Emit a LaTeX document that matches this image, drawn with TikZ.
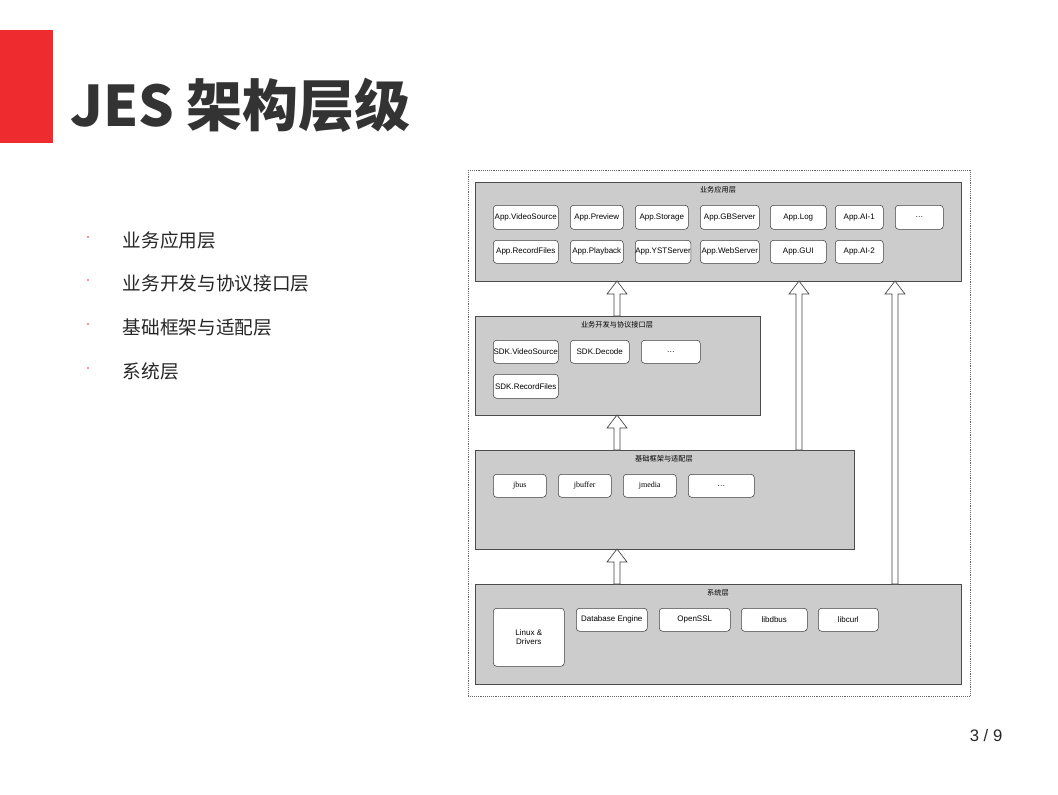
\documentclass[tikz,border=0pt]{standalone}
\usepackage{fontspec}
\setmainfont{Liberation Sans}
\newfontfamily\cjk{Noto Sans CJK SC}
\newfontfamily\serifjs{Liberation Serif}
\usetikzlibrary{positioning,calc}
\definecolor{titlegray}{HTML}{333333}
\definecolor{slidered}{HTML}{EE2B2F}
\definecolor{layergray}{HTML}{CCCCCC}
\tikzset{
  layer/.style 2 args={rectangle, draw=black!70, fill=layergray, anchor=north west,
    minimum width=#1*0.75pt, minimum height=#2*0.75pt, inner sep=0pt},
  modbox/.style 2 args={rectangle, rounded corners=2.5pt, draw=black!75, fill=white,
    anchor=north west, minimum width=#1*0.75pt, minimum height=#2*0.75pt, inner sep=0pt,
    font=\fontsize{6}{7}\selectfont, align=center},
  layertitle/.style={font=\cjk\fontsize{5.4}{6}\selectfont},
  bulletitem/.style={font=\cjk\fontsize{14}{16}\selectfont, anchor=west, text=black!85},
  bulletdot/.style={circle, fill=slidered, inner sep=0pt, minimum size=1.4pt},
  hollow/.style={draw=black!75, fill=white, line width=0.5pt}
}
% hollow block arrow: x, tail y, head y
\newcommand\hollowarrow[3]{%
  \draw[hollow] (#1-3,#2) -- (#1-3,#3+13) -- (#1-10,#3+13) -- (#1,#3)
    -- (#1+10,#3+13) -- (#1+3,#3+13) -- (#1+3,#2) -- cycle;}
\begin{document}
\begin{tikzpicture}[x=0.75pt,y=-0.75pt]
\useasboundingbox (0,0) rectangle (1058,794);
% slide header
\fill[slidered] (0,30) rectangle (53,143);
\node[anchor=base west, inner sep=0pt, text=titlegray, font=\cjk\bfseries\fontsize{42}{46}\selectfont] (title) at (70,126) {JES 架构层级};
% bullets
\foreach \y/\t [count=\i] in {240/业务应用层, 283/业务开发与协议接口层, 327/基础框架与适配层, 371/系统层} {
  \node[bulletdot] (dot\i) at (88,\y-3) {};
  \node[bulletitem] (item\i) at (118,\y) {\t};
}
\node[anchor=east, font=\fontsize{12.5}{14}\selectfont, text=black!85] (page) at (1007,736) {3 / 9};
% outer frame
\draw[densely dotted, draw=black!60] (468,170) rectangle (970,696);
% layers
\node[layer={486}{99}] (app) at (475,182) {};
\node[layertitle] at (718,190) {业务应用层};
\node[layer={285}{99}] (sdk) at (475,316) {};
\node[layertitle] at (617,325) {业务开发与协议接口层};
\node[layer={379}{99}] (base) at (475,450) {};
\node[layertitle] at (664,459) {基础框架与适配层};
\node[layer={486}{100}] (sys) at (475,584) {};
\node[layertitle] at (718,593) {系统层};
% app modules
\foreach \x/\w/\t in {493/65/App.VideoSource, 570/53/App.Preview, 635/53/App.Storage,
    700/59/App.GBServer, 770/56/App.Log, 835/48/App.AI-1, 895/48/{\ldots}}
  \node[modbox={\w}{24}] at (\x,205) {\t};
\foreach \x/\w/\t in {493/65/App.RecordFiles, 570/53/App.Playback, 635/53/App.YSTServer,
    700/59/App.WebServer, 770/56/App.GUI, 835/48/App.AI-2}
  \node[modbox={\w}{23}] at (\x,240) {\t};
% sdk modules
\node[modbox={65}{23}] (sdkvideo) at (493,340) {SDK.VideoSource};
\node[modbox={59}{23}] (sdkdecode) at (570,340) {SDK.Decode};
\node[modbox={59}{23}] (sdkmore) at (641,340) {\ldots};
\node[modbox={65}{24}] (sdkrecord) at (493,374) {SDK.RecordFiles};
% base modules
\foreach \x/\w/\t in {493/53/jbus, 558/53/jbuffer, 623/53/jmedia}
  \node[modbox={\w}{23}, font=\serifjs\fontsize{6}{7}\selectfont] at (\x,474) {\t};
\node[modbox={66}{23}] (basemore) at (688,474) {\ldots};
% system modules
\node[modbox={71}{58}] (linux) at (493,608) {Linux \&\\Drivers};
\node[modbox={71}{23}] (db) at (576,608) {Database Engine};
\node[modbox={71}{23}] (ssl) at (659,608) {OpenSSL};
\node[modbox={66}{23}] (dbus) at (741,608) {libdbus};
\node[modbox={60}{23}] (curl) at (818,608) {libcurl};
% arrows between layers
\hollowarrow{617}{316}{281}
\hollowarrow{617}{450}{415}
\hollowarrow{617}{584}{549}
\hollowarrow{799}{450}{281}
\hollowarrow{895}{584}{281}
\end{tikzpicture}
\end{document}
